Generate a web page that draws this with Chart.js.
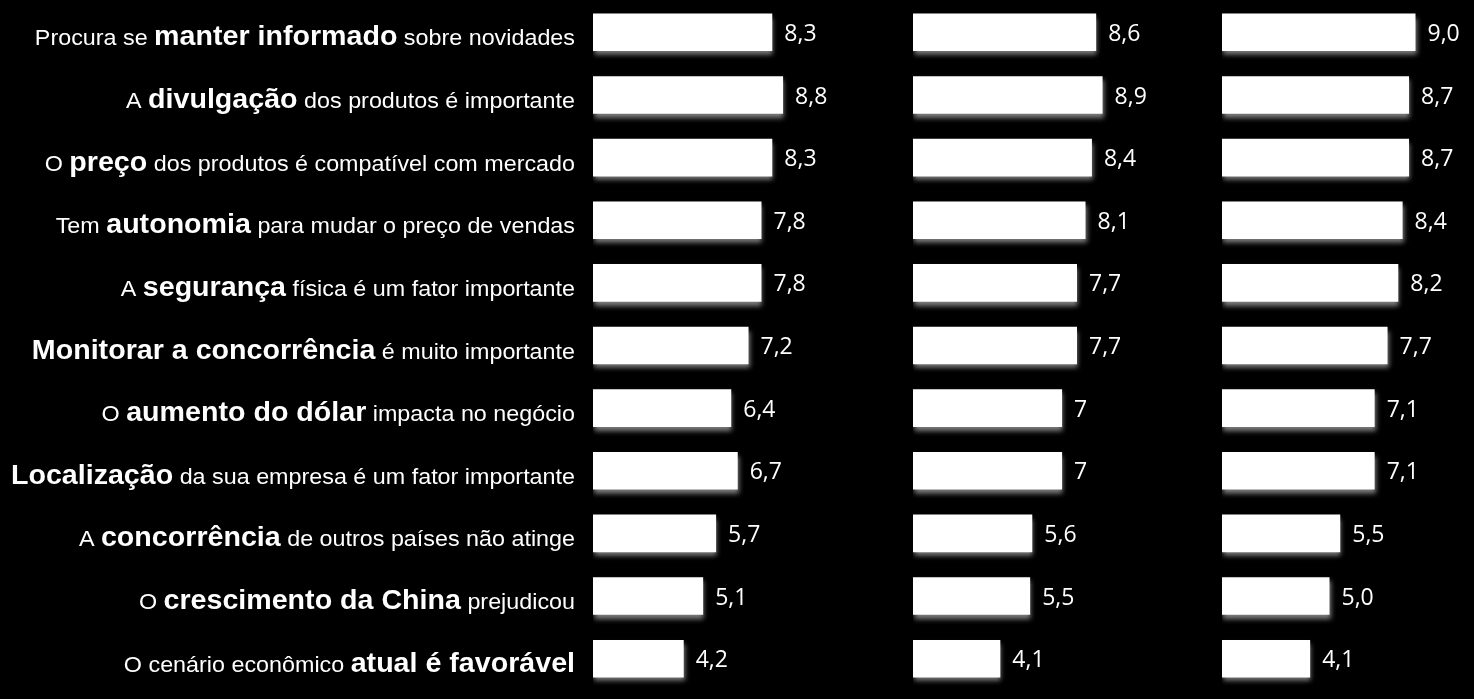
<!DOCTYPE html>
<html lang="pt-BR">
<head>
<meta charset="utf-8">
<script src="https://cdn.jsdelivr.net/npm/chart.js@4.4.1/dist/chart.umd.min.js"></script>
<style>
    html, body { margin: 0; padding: 0; background: #000; }
    #wrap { position: relative; width: 1474px; height: 699px; background: #000; overflow: hidden; }
    canvas { position: absolute; top: 0; }
</style>
</head>
<body>
<div id="wrap">
    <canvas id="chart-1" width="913" height="699" style="left:0px"></canvas>
    <canvas id="chart-2" width="309" height="699" style="left:913px"></canvas>
    <canvas id="chart-3" width="252" height="699" style="left:1222px"></canvas>
</div>
<script>
// 항목 (왼쪽 라벨)
const categories = [
    'Procura se manter informado sobre novidades',
    'A divulgação dos produtos é importante',
    'O preço dos produtos é compatível com mercado',
    'Tem autonomia para mudar o preço de vendas',
    'A segurança física é um fator importante',
    'Monitorar a concorrência é muito importante',
    'O aumento do dólar impacta no negócio',
    'Localização da sua empresa é um fator importante',
    'A concorrência de outros países não atinge',
    'O crescimento da China prejudicou',
    'O cenário econômico atual é favorável'
];

// 라벨 안에서 굵게 표시되는 부분
const boldParts = [
    'manter informado', 'divulgação', 'preço', 'autonomia', 'segurança',
    'Monitorar a concorrência', 'aumento do dólar', 'Localização',
    'concorrência', 'crescimento da China', 'atual é favorável'
];

// 세 개 패널의 값
const valuesA = [8.3, 8.8, 8.3, 7.8, 7.8, 7.2, 6.4, 6.7, 5.7, 5.1, 4.2];
const valuesB = [8.6, 8.9, 8.4, 8.1, 7.7, 7.7, 7, 7, 5.6, 5.5, 4.1];
const valuesC = [9.0, 8.7, 8.7, 8.4, 8.2, 7.7, 7.1, 7.1, 5.5, 5.0, 4.1];

// 소수점 0 표시 여부 (두 번째 패널은 "7" 로 표시)
const keepZeroA = true;
const keepZeroB = false;
const keepZeroC = true;

const scaleMax = 10;

function formatValue(v, keepZero) {
    const s = (keepZero || v % 1 !== 0) ? v.toFixed(1) : String(v);
    return s.replace('.', ',');
}

// 막대 아래 그림자
const shadowPlugin = {
    id: 'barShadow',
    beforeDatasetsDraw(chart) {
        const ctx = chart.ctx;
        ctx.save();
        ctx.shadowColor = 'rgba(170,170,170,0.75)';
        ctx.shadowBlur = 5;
        ctx.shadowOffsetX = 1;
        ctx.shadowOffsetY = 4;
    },
    afterDatasetsDraw(chart) {
        chart.ctx.restore();
    }
};

// 막대 오른쪽 값 라벨
const valueLabelPlugin = {
    id: 'valueLabels',
    afterDatasetsDraw(chart, args, opts) {
        const ctx = chart.ctx;
        const data = chart.data.datasets[0].data;
        ctx.save();
        ctx.fillStyle = '#ffffff';
        ctx.font = '23px "Open Sans", sans-serif';
        ctx.textAlign = 'left';
        ctx.textBaseline = 'middle';
        chart.getDatasetMeta(0).data.forEach((bar, i) => {
            ctx.fillText(formatValue(data[i], opts.keepZero), bar.x + 12, bar.y + 2);
        });
        ctx.restore();
    }
};

// 왼쪽 라벨 (일부 굵은 글씨)
const categoryLabelPlugin = {
    id: 'categoryLabels',
    afterDraw(chart) {
        const ctx = chart.ctx;
        const yScale = chart.scales.y;
        const normalFont = '22px "Liberation Sans", Arial, sans-serif';
        const boldFont = 'bold 27px "Liberation Sans", Arial, sans-serif';
        const stretch = 1.06;
        const rightEdge = 575;

        categories.forEach((label, i) => {
            const b = boldParts[i];
            const k = label.indexOf(b);
            const parts = [
                { text: label.slice(0, k), font: normalFont },
                { text: b, font: boldFont },
                { text: label.slice(k + b.length), font: normalFont }
            ].filter(p => p.text.length > 0);

            let total = 0;
            parts.forEach(p => { ctx.font = p.font; p.w = ctx.measureText(p.text).width; total += p.w; });

            const y = yScale.getPixelForValue(i) + 13;
            ctx.save();
            ctx.translate(rightEdge, y);
            ctx.scale(stretch, 1);
            ctx.fillStyle = '#ffffff';
            ctx.textAlign = 'left';
            ctx.textBaseline = 'alphabetic';
            let x = -total;
            parts.forEach(p => {
                ctx.font = p.font;
                ctx.fillText(p.text, x, 0);
                x += p.w;
            });
            ctx.restore();
        });
    }
};

function makePanel(canvasId, values, keepZero, padding, withLabels) {
    const ctx = document.getElementById(canvasId).getContext('2d');
    const plugins = [shadowPlugin, valueLabelPlugin];
    if (withLabels) plugins.push(categoryLabelPlugin);

    return new Chart(ctx, {
        type: 'bar',
        data: {
            labels: categories,
            datasets: [{
                data: values,
                backgroundColor: '#ffffff',
                borderWidth: 0,
                barPercentage: 0.6,
                categoryPercentage: 1
            }]
        },
        options: {
            indexAxis: 'y',
            responsive: false,
            animation: false,
            layout: { padding: padding },
            plugins: {
                legend: { display: false },
                tooltip: { enabled: false },
                valueLabels: { keepZero: keepZero }
            },
            scales: {
                x: { display: false, min: 0, max: scaleMax },
                y: { display: false }
            }
        },
        plugins: plugins
    });
}

makePanel('chart-1', valuesA, keepZeroA, { left: 593, right: 104, top: 1, bottom: 9 }, true);
makePanel('chart-2', valuesB, keepZeroB, { left: 0, right: 96, top: 1, bottom: 9 }, false);
makePanel('chart-3', valuesC, keepZeroC, { left: 0, right: 37, top: 1, bottom: 9 }, false);
</script>
</body>
</html>
